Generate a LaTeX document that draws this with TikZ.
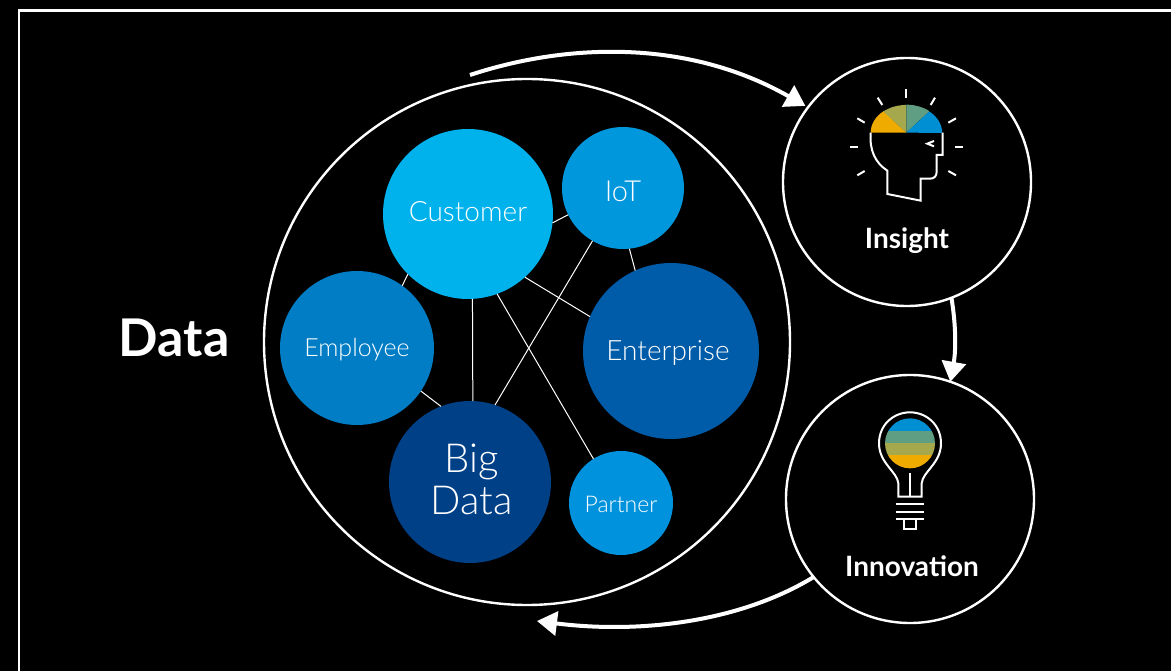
\documentclass[tikz,border=0pt]{standalone}
\usepackage{fontspec}
\setmainfont{Lato}[UprightFont=* Light,BoldFont=* Bold]
\newfontfamily\headfont{Lato}[UprightFont=* Bold]
\usetikzlibrary{arrows.meta}
\definecolor{cCust}{HTML}{00B2EC}
\definecolor{cIot}{HTML}{0097DC}
\definecolor{cEnt}{HTML}{005CA8}
\definecolor{cEmp}{HTML}{007DC5}
\definecolor{cBig}{HTML}{004087}
\definecolor{cPart}{HTML}{0092DC}
\definecolor{cOr}{HTML}{F0AB00}
\definecolor{cOl}{HTML}{A5A84C}
\definecolor{cGr}{HTML}{5F9E83}
\definecolor{cBl}{HTML}{008FD3}
\tikzset{
  ball/.style={circle,fill=#1,inner sep=0pt,outer sep=0pt,text=white},
  ring/.style={circle,draw=white,line width=2.4pt,inner sep=0pt,outer sep=0pt},
  link/.style={draw=white,line width=1pt},
  flow/.style={draw=white,line width=4pt,-{Triangle[length=20pt,width=24pt]}},
  icon/.style={draw=white,line width=2pt},
  title/.style={text=white,font=\headfont\fontsize{28}{30}\selectfont,inner sep=0pt},
  lab/.style={text=white,inner sep=0pt}
}
\begin{document}
\begin{tikzpicture}[x=1pt,y=-1pt]
\fill[black] (0,0) rectangle (1171,671);
\useasboundingbox (0,0) rectangle (1171,671);
\coordinate (fa) at (19,671);
\coordinate (fb) at (19,10.5);
\coordinate (fc) at (1171,10.5);
\draw[white,line width=2.6pt] (fa) -- (fb) -- (fc);

% rings
\node[ring,minimum size=526pt] (data) at (527,342) {};
\node[ring,minimum size=248pt] (ins) at (907,182) {};
\node[ring,minimum size=248pt] (inn) at (910,499) {};

% bubbles
\node[ball=cCust,minimum size=170pt] (cust) at (468,214) {};
\node[ball=cIot,minimum size=122pt] (iot) at (623,188) {};
\node[ball=cEnt,minimum size=176pt] (ent) at (671,351) {};
\node[ball=cEmp,minimum size=154pt] (emp) at (357,348) {};
\node[ball=cBig,minimum size=162pt] (big) at (470,482) {};
\node[ball=cPart,minimum size=104pt] (part) at (621,503) {};

% links
\draw[link] (cust.-135.5) -- (emp.54.5);
\draw[link] (cust.-6) -- (iot.-154);
\draw[link] (iot.-84.5) -- (ent.114);
\draw[link] (cust.-48) -- (ent.157);
\draw[link] (cust.-87) -- (big.88.6);
\draw[link] (cust.-70) -- (part.122);
\draw[link] (iot.-120) -- (big.72);
\draw[link] (emp.-34) -- (big.111);

% labels
\node[lab,font=\fontsize{28}{30}\selectfont] (tCust) at (468,212) {Customer};
\node[lab,font=\fontsize{29}{31}\selectfont] (tIot) at (623,191) {IoT};
\node[lab,font=\fontsize{28}{30}\selectfont] (tEnt) at (668,353) {Enterprise};
\node[lab,font=\fontsize{25}{27}\selectfont] (tEmp) at (357,350) {Employee};
\node[lab,font=\fontsize{23}{25}\selectfont] (tPart) at (621,504) {Partner};
\node[lab,align=center,font=\fontsize{40}{42}\selectfont] (tBig) at (472,479) {Big\\Data};
\node[text=white,inner sep=0pt,font=\headfont\fontsize{52}{54}\selectfont] (tData) at (174,338) {Data};
\node[title] (tIns) at (907,241) {Insight};
\node[title] (tInn) at (912,566) {Innovation};

% flows
\coordinate (s1) at (470,75);
\coordinate (e3) at (537,621);
\draw[flow,shorten >=3pt] (s1) .. controls (570,42) and (690,40) .. (ins.143);
\draw[flow] (ins.-69.4) .. controls (956,325) and (956,350) .. (inn.71);
\draw[flow] (inn.-141.2) .. controls (740,622) and (640,634) .. (e3);

% head icon
\begin{scope}[shift={(830,70)},x=0.33333pt,y=-0.33333pt]
\fill[cOr] (229,188) -- (122,188) arc[start angle=180,end angle=130,x radius=36pt,y radius=28pt] -- cycle;
\fill[cOl] (229,188) -- (160,124.4) arc[start angle=130,end angle=90,x radius=36pt,y radius=28pt] -- cycle;
\fill[cGr] (229,188) -- (229,104) arc[start angle=90,end angle=50,x radius=36pt,y radius=28pt] -- cycle;
\fill[cBl] (229,188) -- (298,124.4) arc[start angle=50,end angle=0,x radius=36pt,y radius=28pt] -- cycle;
\draw[icon,line join=miter] (122,188) .. controls (118,240) and (135,278) .. (172,302) -- (172,372) -- (272,392) -- (272,326) -- (300,326) .. controls (313,326) and (320,318) .. (320,305) -- (320,255) -- (338,255) -- (338,188);
\draw[icon] (312,213) -- (292,221) -- (312,229);
\draw[icon] (229,58) -- (229,85);
\draw[icon] (375,230) -- (400,230);
\draw[icon] (60,230) -- (85,230);
\draw[icon] (143,83) -- (157,105);
\draw[icon] (315,83) -- (302,105);
\draw[icon] (82,145) -- (104,158);
\draw[icon] (378,145) -- (355,158);
\draw[icon] (82,316) -- (104,303);
\draw[icon] (378,316) -- (355,303);
\end{scope}

% bulb icon
\begin{scope}[shift={(860,400)},x=0.33333pt,y=-0.33333pt]
\begin{scope}
\clip (150,130) circle[radius=25pt];
\fill[cBl] (70,50) rectangle (230,94);
\fill[cGr] (70,94) rectangle (230,130);
\fill[cOl] (70,130) rectangle (230,166);
\fill[cOr] (70,166) rectangle (230,210);
\end{scope}
\draw[icon] (115,290) -- (115,250) .. controls (112,215) and (57,190) .. (57,130) .. controls (57,75) and (100,37) .. (150,37) .. controls (200,37) and (243,75) .. (243,130) .. controls (243,190) and (188,215) .. (185,250) -- (185,290) -- cycle;
\draw[icon] (150,220) -- (150,290);
\draw[icon] (107,312) -- (193,312);
\draw[icon] (107,335) -- (193,335);
\draw[icon] (107,358) -- (193,358);
\draw[icon] (133,358) -- (133,387) -- (167,387) -- (167,358);
\end{scope}
\end{tikzpicture}
\end{document}
